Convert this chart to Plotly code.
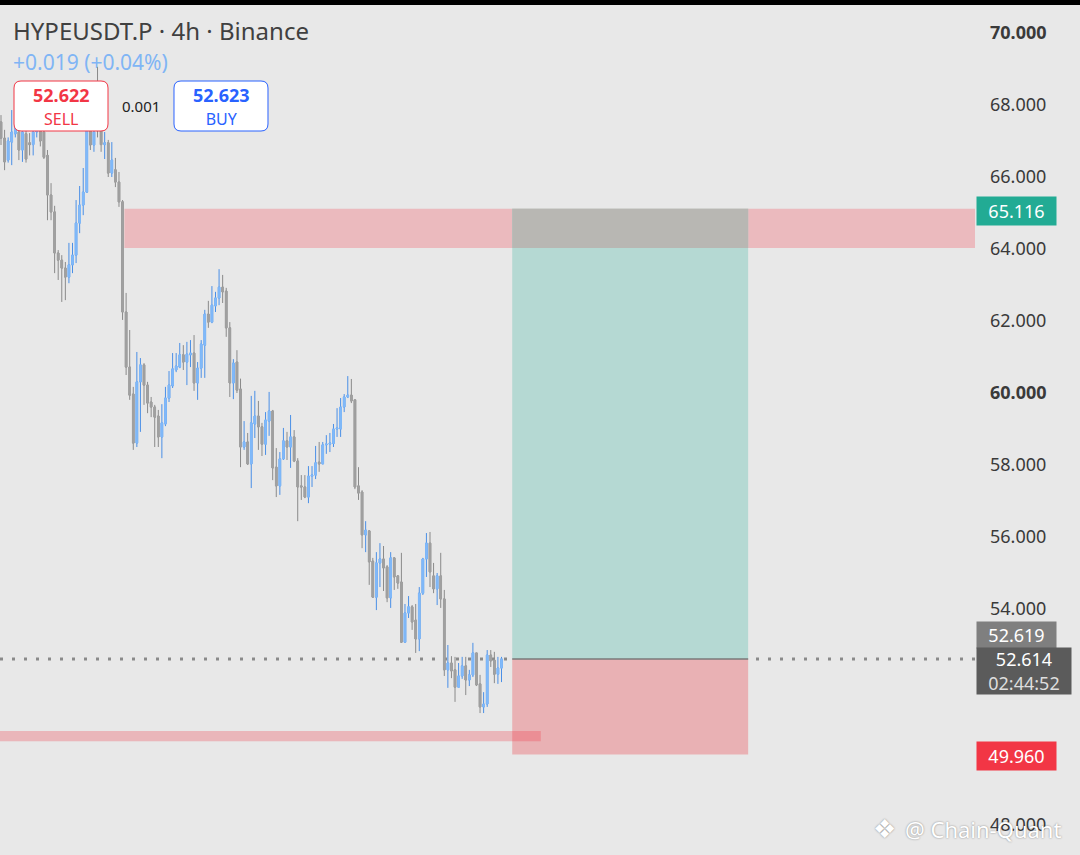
import plotly.graph_objects as go

# ---------------- data ----------------
opens = [67.53, 67.08, 66.47, 66.97, 67.20, 67.25, 66.75, 67.20, 66.95, 66.90,
         67.25, 67.60, 67.25, 66.60, 65.50, 65.03, 63.89, 63.69, 63.47, 63.22,
         63.56, 63.83, 64.72, 65.22, 65.58, 67.31, 66.89, 67.70, 67.30, 66.90,
         66.95, 66.11, 66.20, 65.86, 65.31, 62.25, 60.72, 59.97, 58.61, 60.31,
         60.78, 60.22, 59.75, 59.61, 59.36, 58.78, 59.14, 59.86, 60.20, 60.64,
         60.72, 61.06, 60.86, 61.06, 61.11, 60.28, 60.69, 61.33, 62.19, 61.97,
         62.42, 62.64, 62.94, 62.83, 61.81, 60.28, 60.86, 60.11, 58.50, 58.64,
         58.03, 59.14, 59.36, 59.06, 58.58, 59.22, 59.50, 57.94, 57.42, 58.17,
         58.67, 58.50, 58.78, 58.11, 57.42, 57.39, 57.11, 57.69, 57.72, 58.08,
         58.03, 58.56, 58.58, 58.60, 59.00, 59.00, 59.61, 59.89, 59.94, 59.81,
         57.42, 57.25, 56.06, 56.17, 55.33, 54.33, 55.28, 55.39, 55.17, 54.31,
         55.42, 54.92, 54.75, 53.08, 53.89, 54.06, 53.69, 53.17, 54.44, 55.39,
         55.83, 54.92, 54.56, 54.92, 54.28, 52.31, 52.50, 52.31, 51.83, 52.14,
         52.42, 52.03, 52.17, 52.78, 51.92, 51.28, 51.36, 52.72, 52.58, 52.19,
         52.36]
highs = [67.72, 67.31, 67.10, 67.86, 67.90, 67.45, 67.58, 67.30, 67.22, 67.45,
         68.00, 67.90, 67.45, 66.75, 65.83, 65.20, 63.97, 63.83, 63.64, 64.17,
         64.17, 65.36, 65.75, 66.25, 67.58, 67.72, 67.86, 69.06, 67.60, 67.25,
         67.03, 66.97, 66.53, 66.14, 65.36, 62.78, 61.75, 60.17, 61.14, 60.97,
         60.83, 60.31, 59.89, 59.67, 59.53, 59.69, 60.17, 60.61, 61.11, 61.11,
         61.39, 61.33, 61.42, 61.47, 61.61, 60.86, 61.47, 62.31, 62.56, 62.97,
         62.81, 63.44, 63.28, 62.92, 61.97, 60.94, 61.19, 60.40, 59.22, 58.89,
         59.92, 60.06, 59.78, 59.17, 59.47, 60.03, 59.53, 58.47, 58.36, 59.03,
         58.92, 59.39, 58.97, 58.19, 57.72, 57.72, 57.97, 57.97, 58.53, 58.64,
         58.64, 58.83, 58.89, 59.14, 59.58, 59.86, 59.97, 60.47, 60.39, 59.81,
         57.94, 57.30, 56.44, 56.19, 55.42, 55.58, 55.83, 55.75, 55.22, 55.58,
         55.44, 54.94, 55.56, 54.14, 54.36, 54.11, 54.14, 54.61, 55.42, 56.11,
         56.14, 55.28, 55.00, 55.56, 54.53, 53.00, 52.69, 52.67, 52.50, 52.67,
         52.67, 52.31, 53.06, 52.78, 52.17, 51.69, 52.86, 52.86, 52.81, 52.67,
         52.67]
lows = [66.89, 66.19, 66.40, 66.33, 67.10, 66.47, 66.42, 66.40, 66.60, 66.60,
        67.10, 66.85, 66.50, 64.80, 64.80, 63.33, 63.14, 62.53, 62.58, 63.05,
        63.33, 63.61, 64.44, 64.94, 65.56, 66.75, 66.70, 67.10, 66.70, 66.50,
        66.00, 66.00, 65.72, 65.17, 62.03, 60.50, 59.81, 58.42, 58.50, 58.92,
        59.67, 59.44, 59.33, 58.50, 58.50, 58.19, 59.08, 59.75, 60.14, 60.58,
        60.69, 60.64, 60.22, 60.72, 60.06, 59.81, 60.42, 60.42, 61.81, 61.94,
        62.25, 62.44, 62.50, 61.56, 59.89, 59.83, 60.00, 57.94, 58.42, 58.00,
        57.36, 58.75, 58.42, 58.25, 58.28, 58.81, 57.58, 57.11, 57.17, 58.14,
        58.14, 57.92, 58.08, 56.44, 57.03, 57.08, 56.94, 57.39, 57.61, 57.81,
        58.03, 58.31, 58.36, 58.50, 58.78, 58.78, 59.47, 59.86, 59.72, 57.33,
        57.03, 55.69, 55.58, 54.67, 54.31, 53.97, 54.61, 54.50, 54.19, 54.03,
        54.53, 54.56, 53.06, 53.06, 53.75, 53.42, 52.78, 52.83, 54.39, 54.89,
        54.61, 54.44, 54.11, 54.03, 52.14, 51.81, 52.08, 51.42, 51.83, 52.06,
        51.61, 51.86, 52.11, 51.86, 51.11, 51.11, 51.28, 52.39, 51.94, 51.92,
        51.97]
closes = [67.08, 66.42, 67.00, 67.25, 67.40, 66.75, 67.25, 66.50, 66.90, 67.25,
          67.60, 67.00, 66.55, 65.50, 65.03, 63.89, 63.69, 63.47, 63.22, 63.56,
          63.83, 64.72, 65.22, 65.58, 67.31, 66.89, 67.25, 67.30, 66.90, 66.95,
          66.11, 66.47, 65.86, 65.31, 62.25, 60.72, 59.94, 58.61, 60.31, 60.78,
          60.22, 59.72, 59.61, 59.33, 58.78, 59.17, 59.86, 60.22, 60.67, 60.75,
          61.06, 60.86, 61.08, 61.11, 60.28, 60.69, 61.36, 62.19, 61.97, 62.44,
          62.64, 62.94, 62.81, 61.81, 60.28, 60.83, 60.08, 58.50, 58.64, 58.03,
          59.17, 59.36, 59.06, 58.58, 59.25, 59.50, 57.92, 57.42, 58.17, 58.67,
          58.50, 58.78, 58.11, 57.39, 57.39, 57.11, 57.69, 57.72, 58.06, 58.03,
          58.56, 58.58, 58.61, 59.00, 59.03, 59.61, 59.89, 59.94, 59.78, 57.39,
          57.22, 56.06, 56.19, 55.31, 54.33, 55.28, 55.39, 55.14, 54.31, 55.42,
          54.89, 54.72, 53.08, 53.89, 54.06, 53.64, 53.17, 54.44, 55.39, 55.83,
          55.03, 54.56, 54.92, 54.28, 52.31, 52.50, 52.28, 51.83, 52.14, 52.42,
          52.03, 52.17, 52.78, 51.89, 51.28, 51.36, 52.72, 52.56, 52.19, 52.36,
          52.614]
bar_index = list(range(len(opens)))

# price-scale ticks (50 and 52 sit behind the price labels in the reference)
tick_values = [48, 54, 56, 58, 60, 62, 64, 66, 68, 70]
tick_labels = ["48.000", "54.000", "56.000", "58.000",
               "<b>60.000</b>", "62.000", "64.000", "66.000", "68.000", "<b>70.000</b>"]

# drawn levels
zone_top, zone_bottom = 65.116, 64.03
band_top, band_bottom = 50.61, 50.33
entry_price, stop_price, target_price = 52.614, 49.960, 65.116
zone_start_bar, pos_start_bar, pos_end_bar, band_end_bar = 34.5, 143, 209, 151

title_text = "HYPEUSDT.P · 4h · Binance"
change_text = "+0.019 (+0.04%)"
sell_price, buy_price, spread_text = "52.622", "52.623", "0.001"
last_price_label, other_price_label, countdown = "52.614", "52.619", "02:44:52"
target_label, stop_label = "65.116", "49.960"
watermark = "@ Chain-Quant"

# ---------------- layout helpers ----------------
W, H = 1080, 855
PW = 975  # plot width in px (right margin holds price scale)
X_RANGE = [-0.28, 272.45]
Y_RANGE = [47.167, 70.917]
FONT = "Noto Sans"


def fx(px):
    return px / PW


def fy(py):
    return 1 - py / H


def rrect_path(x0, y0, x1, y1, r):
    def P(x, y):
        return f"{fx(x):.5f},{fy(y):.5f}"
    return (f"M {P(x0 + r, y0)} L {P(x1 - r, y0)} Q {P(x1, y0)} {P(x1, y0 + r)} "
            f"L {P(x1, y1 - r)} Q {P(x1, y1)} {P(x1 - r, y1)} L {P(x0 + r, y1)} "
            f"Q {P(x0, y1)} {P(x0, y1 - r)} L {P(x0, y0 + r)} Q {P(x0, y0)} {P(x0 + r, y0)} Z")


UP_BODY, UP_WICK = "#80b9f9", "#4a8fe6"
DN_BODY, DN_WICK = "#a0a0a0", "#8a8a8a"

fig = go.Figure()

# wicks
fig.add_trace(go.Candlestick(
    x=bar_index, open=opens, high=highs, low=lows, close=closes,
    increasing=dict(line=dict(color=UP_WICK, width=1), fillcolor=UP_WICK),
    decreasing=dict(line=dict(color=DN_WICK, width=1), fillcolor=DN_WICK),
    whiskerwidth=0, hoverinfo="skip", showlegend=False))
# bodies
body_hi = [max(o, c) for o, c in zip(opens, closes)]
body_lo = [min(o, c) for o, c in zip(opens, closes)]
fig.add_trace(go.Candlestick(
    x=bar_index, open=opens, high=body_hi, low=body_lo, close=closes,
    increasing=dict(line=dict(color=UP_BODY, width=1), fillcolor=UP_BODY),
    decreasing=dict(line=dict(color=DN_BODY, width=1), fillcolor=DN_BODY),
    whiskerwidth=0, hoverinfo="skip", showlegend=False))

shapes = []
# resistance zone
shapes.append(dict(type="rect", xref="x", yref="y", x0=zone_start_bar, x1=X_RANGE[1] + 5,
                   y0=zone_bottom, y1=zone_top, fillcolor="rgba(242,54,69,0.26)",
                   line=dict(width=0), layer="below"))
# long position tool
shapes.append(dict(type="rect", xref="x", yref="y", x0=pos_start_bar, x1=pos_end_bar,
                   y0=entry_price, y1=target_price, fillcolor="#b5d9d3",
                   line=dict(width=0), layer="below"))
shapes.append(dict(type="rect", xref="x", yref="y", x0=pos_start_bar, x1=pos_end_bar,
                   y0=zone_bottom, y1=zone_top, fillcolor="#b8b7b3",
                   line=dict(width=0), layer="below"))
shapes.append(dict(type="rect", xref="x", yref="y", x0=pos_start_bar, x1=pos_end_bar,
                   y0=stop_price, y1=entry_price, fillcolor="#e9b1b4",
                   line=dict(width=0), layer="below"))
# support band
shapes.append(dict(type="rect", xref="x", yref="y", x0=X_RANGE[0] - 5, x1=band_end_bar,
                   y0=band_bottom, y1=band_top, fillcolor="rgba(242,54,69,0.28)",
                   line=dict(width=0), layer="below"))
# entry line of the tool
shapes.append(dict(type="line", xref="x", yref="y", x0=pos_start_bar, x1=pos_end_bar,
                   y0=entry_price, y1=entry_price, line=dict(color="#7a7a7a", width=1.5),
                   layer="below"))
# last price dotted line
shapes.append(dict(type="line", xref="paper", yref="y", x0=0, x1=1,
                   y0=entry_price, y1=entry_price,
                   line=dict(color="#8a8a8a", width=3, dash="3px,9px"), layer="below"))
# sell / buy boxes
shapes.append(dict(type="path", xref="paper", yref="paper", path=rrect_path(14, 81, 108, 131, 7),
                   fillcolor="white", line=dict(color="#f23645", width=1), layer="above"))
shapes.append(dict(type="path", xref="paper", yref="paper", path=rrect_path(174, 81, 268, 131, 7),
                   fillcolor="white", line=dict(color="#2962ff", width=1), layer="above"))
# top black bar
shapes.append(dict(type="rect", xref="paper", yref="paper", x0=0, x1=W / PW,
                   y0=fy(5), y1=1, fillcolor="black", line=dict(width=0), layer="above"))

ann = []
ann.append(dict(xref="paper", yref="paper", x=fx(11), y=fy(30), xanchor="left", yanchor="middle",
                text=title_text, showarrow=False, font=dict(family=FONT, size=24, color="#404040")))
ann.append(dict(xref="paper", yref="paper", x=fx(11), y=fy(62), xanchor="left", yanchor="middle",
                text=change_text, showarrow=False, font=dict(family=FONT, size=21, color="#80b5f5")))
for cx, col, price, side in [(61, "#f23645", sell_price, "SELL"), (221, "#2962ff", buy_price, "BUY")]:
    ann.append(dict(xref="paper", yref="paper", x=fx(cx), y=fy(106), xanchor="center", yanchor="middle",
                    text=f"<b>{price}</b><br><span style='font-size:16px'>{side}</span>",
                    showarrow=False, align="center",
                    font=dict(family=FONT, size=18, color=col)))
ann.append(dict(xref="paper", yref="paper", x=fx(141), y=fy(106), xanchor="center", yanchor="middle",
                text=spread_text, showarrow=False, font=dict(family=FONT, size=15, color="#222222")))


# price-scale labels
def scale_label(text, cy, bg, h=28, w=79, color="white"):
    return dict(xref="paper", yref="paper", x=fx(976), y=fy(cy), xanchor="left", yanchor="middle",
                text=text, showarrow=False, bgcolor=bg, width=w, height=h, borderpad=0,
                align="center", valign="middle", font=dict(family=FONT, size=18, color=color))


ann.append(scale_label(target_label, 211, "#22ab94"))
ann.append(scale_label(other_price_label, 635, "#7f7f7f", h=26))
ann.append(scale_label(f"{last_price_label}<br><span style='color:#dedede'>{countdown}</span>",
                       671, "#5b5b5b", h=46, w=94))
ann.append(scale_label(stop_label, 756, "#f23645"))

# watermark
ann.append(dict(xref="paper", yref="paper", x=fx(884), y=fy(829), xanchor="center", yanchor="middle",
                text="❖", showarrow=False,
                font=dict(family="DejaVu Sans", size=26, color="white",
                          shadow="0px 0px 2px rgba(0,0,0,0.45)")))
ann.append(dict(xref="paper", yref="paper", x=fx(903), y=fy(829), xanchor="left", yanchor="middle",
                text=watermark, showarrow=False,
                font=dict(family=FONT, size=22, color="white",
                          shadow="0px 0px 2px rgba(0,0,0,0.45)")))

fig.update_layout(
    width=W, height=H,
    margin=dict(l=0, r=W - PW, t=0, b=0),
    paper_bgcolor="#e8e8e8", plot_bgcolor="#e8e8e8",
    showlegend=False, hovermode=False, boxgap=0.35,
    shapes=shapes, annotations=ann,
    xaxis=dict(range=X_RANGE, visible=False, rangeslider=dict(visible=False), fixedrange=True),
    yaxis=dict(range=Y_RANGE, side="right", showgrid=False, zeroline=False, showline=False,
               tickvals=tick_values, ticktext=tick_labels, ticks="", ticklabelstandoff=14,
               tickfont=dict(family=FONT, size=18, color="#3a3a3a"), fixedrange=True),
)

fig.write_html("out.html", config={"displayModeBar": False},
               post_script="document.body.style.margin='0';document.body.style.background='#e8e8e8';")
